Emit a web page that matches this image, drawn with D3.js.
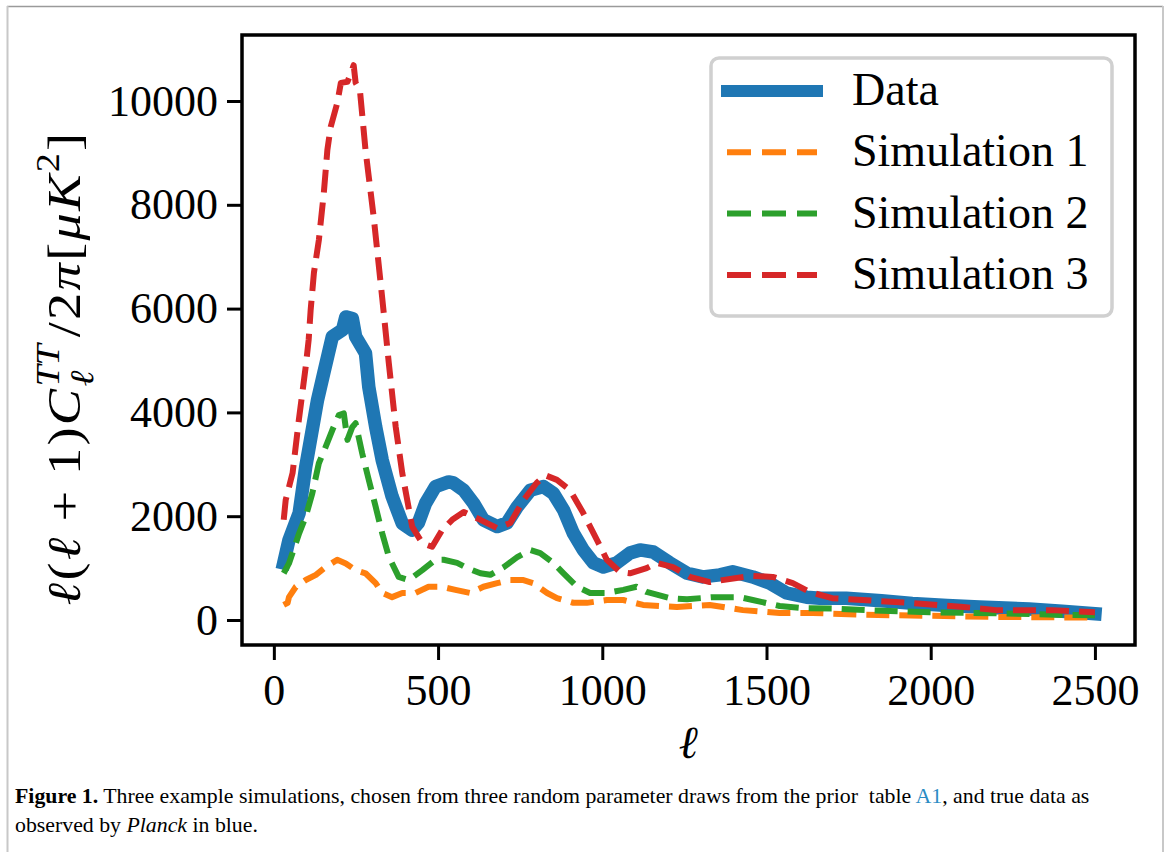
<!DOCTYPE html>
<html>
<head>
<meta charset="utf-8">
<script src="https://cdn.jsdelivr.net/npm/d3@7"></script>
<style>
  body { margin: 0; background: #fff; }
  svg { display: block; }
  text { white-space: pre; }
</style>
</head>
<body>
<svg id="chart" width="1170" height="852"></svg>
<script>
// values (multipole ell vs l(l+1)C_l/2pi in muK^2)
const dataEll = [30,46,77,97,133,152,178,209,219,239,249,279,289,310,330,360,391,421,440,462,492,532,547,578,608,638,680,710,741,781,821,851,882,912,942,973,1003,1044,1084,1115,1155,1206,1258,1306,1358,1397,1458,1510,1561,1622,1662,1743,1850,1944,2050,2148,2300,2400,2500];
const dataCl = [1100,1540,2060,2950,4240,4760,5460,5590,5840,5810,5460,5140,4490,3720,3080,2380,1860,1730,1870,2250,2570,2660,2640,2500,2250,1930,1800,1870,2180,2500,2570,2440,2120,1670,1350,1100,1020,1100,1290,1350,1310,1100,900,830,870,930,830,710,520,440,420,420,370,320,280,250,210,170,120];

const sim1Ell = [30,42,46,67,97,128,158,193,219,249,279,310,330,360,391,431,471,512,553,598,638,680,720,760,790,832,862,912,953,1014,1064,1124,1227,1327,1428,1540,1640,1800,2000,2200,2400,2500];
const sim1Cl = [290,330,440,640,770,870,1020,1160,1090,960,900,710,520,440,520,520,640,640,580,520,640,710,770,770,710,520,420,330,330,385,385,290,250,290,190,135,135,100,80,60,50,45];

const sim2Ell = [30,46,77,97,117,137,158,178,198,213,224,239,249,269,289,310,330,350,380,411,452,492,517,558,589,629,659,700,741,781,811,851,882,923,963,1014,1064,1104,1135,1206,1258,1337,1418,1458,1540,1610,1700,1804,1996,2199,2382,2500];
const sim2Cl = [900,1090,1670,1990,2440,3020,3340,3660,3950,3980,3470,3720,3790,3210,2700,2180,1670,1220,830,770,960,1160,1160,1100,1000,900,870,1020,1210,1350,1290,1100,900,640,520,520,580,640,540,420,400,440,440,385,270,230,220,190,150,130,100,90];

const sim3Ell = [30,36,57,76,97,106,112,122,137,152,163,173,193,204,224,234,243,249,262,279,289,304,330,350,371,391,421,452,482,512,543,578,629,680,720,760,800,826,862,902,942,984,1014,1054,1084,1135,1166,1215,1267,1327,1409,1458,1519,1580,1631,1700,1792,1944,2100,2199,2370,2500];
const sim3Cl = [1930,2310,2830,3850,4880,5400,5970,6690,7320,8220,9060,9500,9960,10350,10370,10530,10690,10350,10210,9060,8540,7760,6200,4950,3720,2830,1800,1480,1410,1730,1930,2080,1930,1770,1870,2310,2640,2790,2700,2500,2060,1540,1160,925,900,1000,1100,1020,830,730,810,850,830,710,540,420,385,325,250,190,190,150];

const seriesNames = ["Data", "Simulation 1", "Simulation 2", "Simulation 3"];
const seriesColors = ["#1f77b4", "#ff7f0e", "#2ca02c", "#d62728"];
const xTicks = [0, 500, 1000, 1500, 2000, 2500];
const yTicks = [0, 2000, 4000, 6000, 8000, 10000];

const serif = "'Liberation Serif', 'DejaVu Serif', serif";
const svg = d3.select("#chart");

// page border bits from the source document
svg.append("line").attr("x1", 7).attr("x2", 1163).attr("y1", 6.5).attr("y2", 6.5)
    .attr("stroke", "#9a9a9a").attr("stroke-width", 1.5);
svg.append("line").attr("x1", 7.5).attr("x2", 7.5).attr("y1", 6).attr("y2", 852)
    .attr("stroke", "#c8c8c8").attr("stroke-width", 2);
svg.append("line").attr("x1", 1163).attr("x2", 1163).attr("y1", 6).attr("y2", 852)
    .attr("stroke", "#c8c8c8").attr("stroke-width", 2);

const plot = { left: 242, right: 1135, top: 35, bottom: 645 };

const x = d3.scaleLinear().domain([-97, 2622]).range([plot.left, plot.right]);
const y = d3.scaleLinear().domain([-482, 11272]).range([plot.bottom, plot.top]);

// axes
const xAxis = svg.append("g")
    .attr("transform", `translate(0,${plot.bottom})`)
    .call(d3.axisBottom(x).tickValues(xTicks).tickFormat(d3.format("d")).tickSize(15).tickPadding(14));
const yAxis = svg.append("g")
    .attr("transform", `translate(${plot.left},0)`)
    .call(d3.axisLeft(y).tickValues(yTicks).tickFormat(d3.format("d")).tickSize(15).tickPadding(9));

[xAxis, yAxis].forEach(a => {
    a.select(".domain").remove();
    a.selectAll(".tick line").attr("stroke", "#000").attr("stroke-width", 3);
    a.selectAll(".tick text").attr("fill", "#000")
        .style("font-family", serif).style("font-size", "44px");
});

// lines
const line = d3.line().x(d => x(d[0])).y(d => y(d[1]));
const allSeries = [
    d3.zip(dataEll, dataCl),
    d3.zip(sim1Ell, sim1Cl),
    d3.zip(sim2Ell, sim2Cl),
    d3.zip(sim3Ell, sim3Cl)
];

svg.append("g").selectAll("path")
    .data(allSeries)
    .enter().append("path")
    .attr("d", line)
    .attr("fill", "none")
    .attr("stroke", (d, i) => seriesColors[i])
    .attr("stroke-width", (d, i) => i == 0 ? 13.5 : 6)
    .attr("stroke-dasharray", (d, i) => i == 0 ? null : "23,10")
    .attr("stroke-linecap", (d, i) => i == 0 ? "square" : "butt")
    .attr("stroke-linejoin", "round");

// frame
svg.append("rect")
    .attr("x", plot.left).attr("y", plot.top)
    .attr("width", plot.right - plot.left).attr("height", plot.bottom - plot.top)
    .attr("fill", "none").attr("stroke", "#000").attr("stroke-width", 3.5);

// legend
const legend = svg.append("g");
legend.append("rect")
    .attr("x", 711).attr("y", 58).attr("width", 401).attr("height", 258).attr("rx", 8)
    .attr("fill", "#fff").attr("fill-opacity", 0.8)
    .attr("stroke", "#d0d0d0").attr("stroke-width", 3.5);

const rows = legend.selectAll("g.row")
    .data(seriesNames)
    .enter().append("g")
    .attr("transform", (d, i) => `translate(0,${91 + i * 61.3})`);
rows.append("line")
    .attr("x1", 727).attr("x2", 817)
    .attr("stroke", (d, i) => seriesColors[i])
    .attr("stroke-width", (d, i) => i == 0 ? 12 : 6)
    .attr("stroke-dasharray", (d, i) => i == 0 ? null : "24,11")
    .attr("stroke-linecap", (d, i) => i == 0 ? "square" : "butt");
rows.append("text")
    .attr("x", 852).attr("y", 14)
    .style("font-family", serif).style("font-size", "46px")
    .text(d => d);

// y label built piece by piece (math-like layout)
const F = 47;
const yPieces = [
    { t: "ℓ", it: true }, { t: "(" }, { t: "ℓ", it: true }, { t: " + " }, { t: "1" }, { t: ")" },
    { t: "C", it: true },
    { stack: [{ t: "TT", it: true, s: 0.7, dy: -0.45 }, { t: "ℓ", it: true, s: 0.7, dy: 0.28 }] },
    { t: "/" }, { t: "2" }, { t: "π", it: true }, { t: "[" }, { t: "μ", it: true }, { t: "K", it: true },
    { t: "2", s: 0.7, dy: -0.45 }, { t: "]" }
];
const yLab = svg.append("g");
const inner = yLab.append("g");
let cursor = 0;
function putPiece(p, at) {
    const t = inner.append("text")
        .attr("x", at).attr("y", (p.dy || 0) * F)
        .style("font-family", serif)
        .style("font-size", (p.s || 1) * F + "px")
        .style("font-style", p.it ? "italic" : "normal")
        .text(p.t);
    return t.node().getComputedTextLength();
}
yPieces.forEach(p => {
    if (p.stack) {
        const w = d3.max(p.stack.map(q => putPiece(q, cursor)));
        cursor += w + 6;
    } else {
        cursor += putPiece(p, cursor) + 2;
    }
});
// stretch along the text direction to the reference length
const k = 475 / cursor;
inner.attr("transform", `scale(${k},1) translate(${-cursor / 2},0)`);
yLab.attr("transform", "translate(80,368) rotate(-90)");

// x label
svg.append("text")
    .attr("x", 688).attr("y", 758)
    .attr("text-anchor", "middle")
    .style("font-family", serif).style("font-size", "46px").style("font-style", "italic")
    .text("ℓ");

// caption
const cap = svg.append("g").style("font-family", serif);
const line1 = cap.append("text").attr("x", 15).attr("y", 803).style("font-size", "19px");
line1.append("tspan").style("font-weight", "bold").text("Figure 1.");
line1.append("tspan").text(" Three example simulations, chosen from three random parameter draws from the prior  table ");
line1.append("tspan").attr("fill", "#2b8cc4").text("A1");
line1.append("tspan").text(", and true data as");
const line2 = cap.append("text").attr("x", 15).attr("y", 832).style("font-size", "19px");
line2.append("tspan").text("observed by ");
line2.append("tspan").style("font-style", "italic").text("Planck");
line2.append("tspan").text(" in blue.");
const w1 = line1.node().getComputedTextLength();
const capSize = 19 * 1075 / w1;
line1.style("font-size", capSize + "px");
line2.style("font-size", capSize + "px");
</script>
</body>
</html>
